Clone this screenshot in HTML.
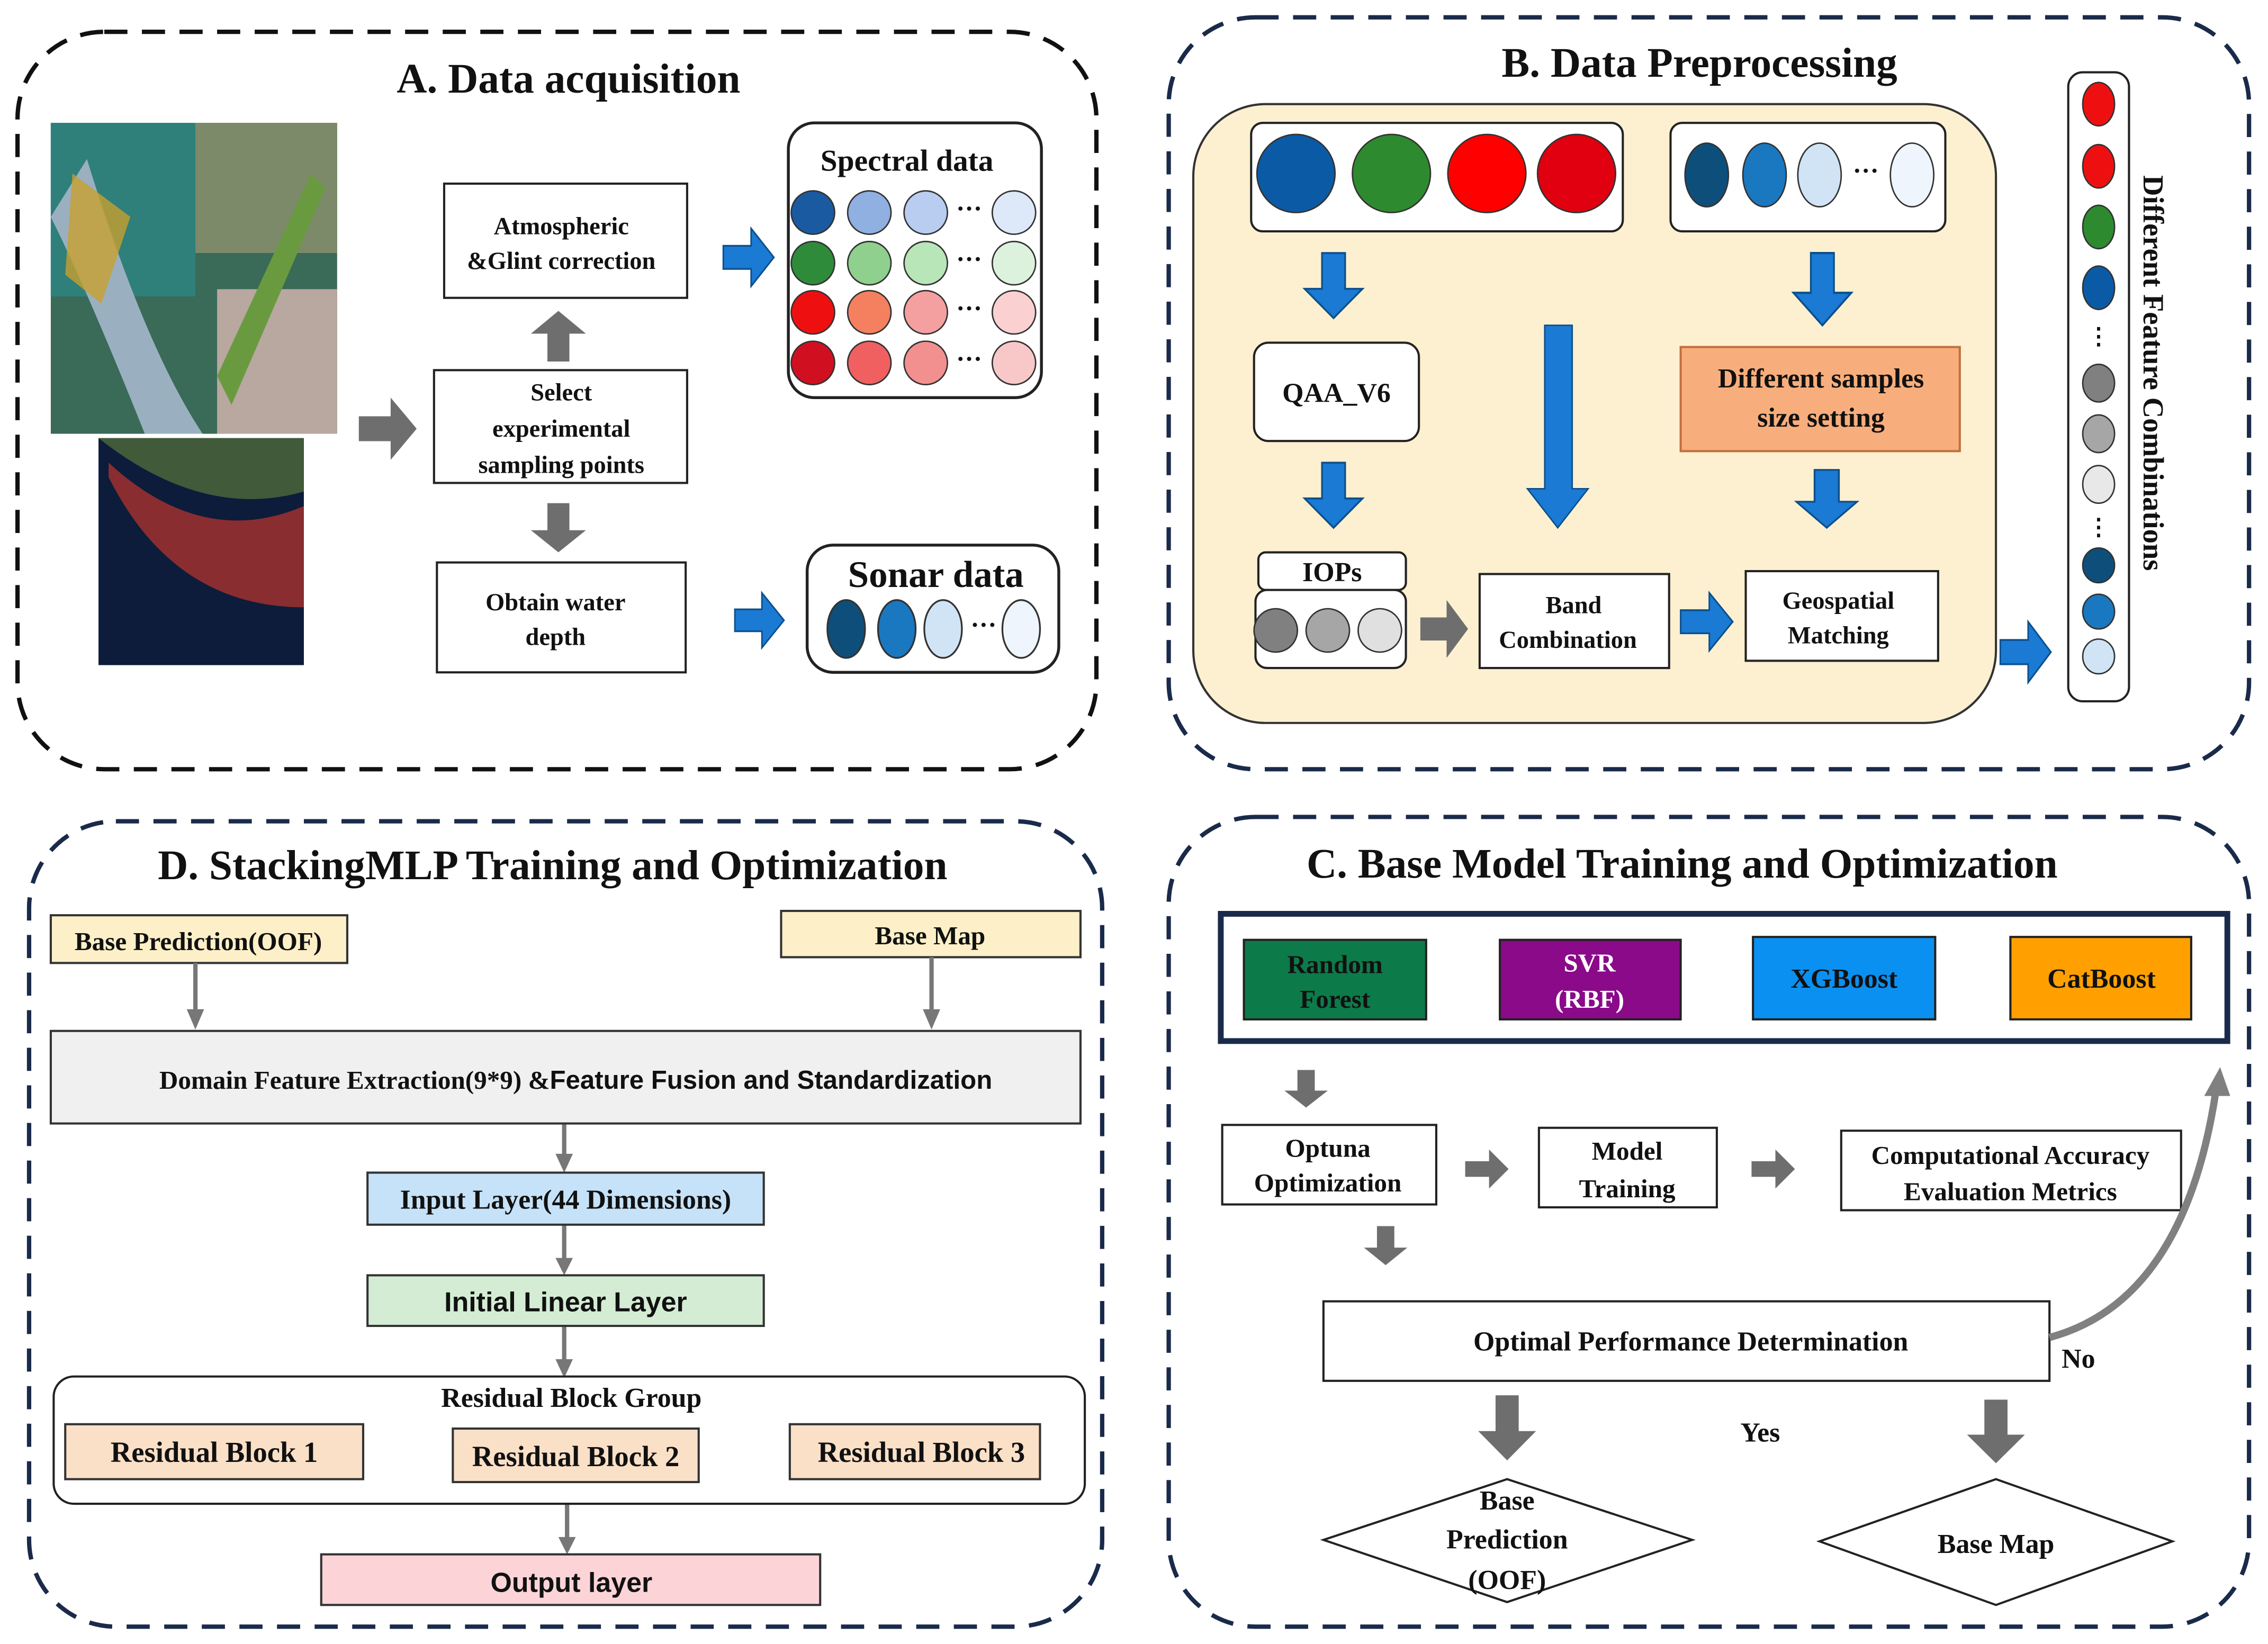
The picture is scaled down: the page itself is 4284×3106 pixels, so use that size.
<!DOCTYPE html>
<html><head><meta charset="utf-8"><style>
html,body{margin:0;padding:0;background:#fff;}
svg{display:block;}
text{font-family:"Liberation Serif",serif;font-weight:bold;fill:#111;}
.s{font-family:"Liberation Sans",sans-serif;}
</style></head><body>
<svg width="4284" height="3106" viewBox="0 0 1568 1137" xmlns="http://www.w3.org/2000/svg">
<defs>
<polygon id="ar" points="0,0.3 0.55,0.3 0.55,0 1,0.5 0.55,1 0.55,0.7 0,0.7"/>
</defs>
<rect width="1568" height="1137" fill="#fff"/>
<!-- Panel frames -->
<rect x="12" y="22" width="746" height="510" rx="60" fill="none" stroke="#111" stroke-width="3" stroke-dasharray="16,10"/>
<rect x="808" y="12" width="747" height="520" rx="60" fill="none" stroke="#1a2a4a" stroke-width="3" stroke-dasharray="16,10"/>
<rect x="20" y="568" width="742" height="557" rx="60" fill="none" stroke="#1a2a4a" stroke-width="3" stroke-dasharray="16,10"/>
<rect x="808" y="565" width="747" height="560" rx="60" fill="none" stroke="#1a2a4a" stroke-width="3" stroke-dasharray="16,10"/>

<!-- Panel A -->
<text x="393" y="64" font-size="29" text-anchor="middle">A. Data acquisition</text>
<rect x="35" y="85" width="198" height="215" fill="#3a6a58"/>
<rect x="35" y="85" width="100" height="120" fill="#2f7f7a"/>
<rect x="135" y="85" width="98" height="90" fill="#7c8a6a"/>
<rect x="150" y="200" width="83" height="100" fill="#b8a8a0"/>
<path d="M60,110 Q100,240 140,300 L100,300 Q60,200 35,150Z" fill="#9ab0c0"/>
<path d="M50,120 L90,150 L70,210 L45,190Z" fill="#c8a030" opacity="0.8"/>
<path d="M150,260 L215,120 L225,130 L160,280Z" fill="#6a9a40"/>
<rect x="68" y="303" width="142" height="157" fill="#0c1c3a"/>
<path d="M75,320 Q140,380 210,350 L210,420 Q120,420 75,330Z" fill="#a03030" opacity="0.85"/>
<path d="M68,303 L210,303 L210,340 Q140,360 68,303Z" fill="#405a3a"/>
<use href="#ar" transform="translate(248,275) scale(40,43)" fill="#6e6e6e"/>
<rect x="307" y="127" width="168" height="79" fill="#fff" stroke="#222" stroke-width="1.5"/>
<text x="388" y="162" font-size="17" text-anchor="middle">Atmospheric</text>
<text x="388" y="186" font-size="17" text-anchor="middle">&amp;Glint correction</text>
<rect x="300" y="256" width="175" height="78" fill="#fff" stroke="#222" stroke-width="1.5"/>
<text x="388" y="277" font-size="17" text-anchor="middle">Select</text>
<text x="388" y="302" font-size="17" text-anchor="middle">experimental</text>
<text x="388" y="327" font-size="17" text-anchor="middle">sampling points</text>
<rect x="302" y="389" width="172" height="76" fill="#fff" stroke="#222" stroke-width="1.5"/>
<text x="384" y="422" font-size="17" text-anchor="middle">Obtain water</text>
<text x="384" y="446" font-size="17" text-anchor="middle">depth</text>
<use href="#ar" transform="translate(367,250) rotate(-90) scale(35,38)" fill="#6e6e6e"/>
<use href="#ar" transform="translate(405,348) rotate(90) scale(34,38)" fill="#6e6e6e"/>
<use href="#ar" transform="translate(500,158) scale(35,40)" fill="#1a7ad4" stroke="#0d4f8a" stroke-width="0.03"/>
<use href="#ar" transform="translate(508,410) scale(34,38)" fill="#1a7ad4" stroke="#0d4f8a" stroke-width="0.03"/>
<rect x="545" y="85" width="175" height="190" rx="18" fill="#fff" stroke="#222" stroke-width="2"/>
<text x="627" y="118" font-size="21" text-anchor="middle">Spectral data</text>
<g stroke="#333" stroke-width="1">
<circle cx="562" cy="147" r="15" fill="#1a5aa0"/><circle cx="601" cy="147" r="15" fill="#8fb0e0"/><circle cx="640" cy="147" r="15" fill="#b8cdf0"/><circle cx="701" cy="147" r="15" fill="#dde8f8"/>
<circle cx="562" cy="182" r="15" fill="#2e8b3a"/><circle cx="601" cy="182" r="15" fill="#8fd08f"/><circle cx="640" cy="182" r="15" fill="#b8e6b8"/><circle cx="701" cy="182" r="15" fill="#dcf2dc"/>
<circle cx="562" cy="216" r="15" fill="#ee1010"/><circle cx="601" cy="216" r="15" fill="#f58060"/><circle cx="640" cy="216" r="15" fill="#f5a0a0"/><circle cx="701" cy="216" r="15" fill="#fad0d0"/>
<circle cx="562" cy="251" r="15" fill="#d01020"/><circle cx="601" cy="251" r="15" fill="#f06060"/><circle cx="640" cy="251" r="15" fill="#f29090"/><circle cx="701" cy="251" r="15" fill="#f8c8c8"/>
</g>
<text x="670" y="150" font-size="18" text-anchor="middle">···</text>
<text x="670" y="185" font-size="18" text-anchor="middle">···</text>
<text x="670" y="219" font-size="18" text-anchor="middle">···</text>
<text x="670" y="254" font-size="18" text-anchor="middle">···</text>
<rect x="558" y="377" width="174" height="88" rx="18" fill="#fff" stroke="#222" stroke-width="2"/>
<text x="647" y="406" font-size="26" text-anchor="middle">Sonar data</text>
<g stroke="#333" stroke-width="1.2">
<ellipse cx="585" cy="435" rx="13" ry="20" fill="#0d4f7a"/><ellipse cx="620" cy="435" rx="13" ry="20" fill="#1a78c0"/><ellipse cx="652" cy="435" rx="13" ry="20" fill="#d0e4f5"/><ellipse cx="706" cy="435" rx="13" ry="20" fill="#eef5fc"/>
</g>
<text x="680" y="438" font-size="18" text-anchor="middle">···</text>

<!-- Panel B -->
<text x="1175" y="53" font-size="29" text-anchor="middle">B. Data Preprocessing</text>
<rect x="825" y="72" width="555" height="428" rx="50" fill="#fdf0d0" stroke="#333" stroke-width="1.5"/>
<rect x="865" y="85" width="257" height="75" rx="8" fill="#fff" stroke="#222" stroke-width="1.5"/>
<g stroke="#333" stroke-width="1">
<circle cx="896" cy="120" r="27" fill="#0b5aa5"/><circle cx="962" cy="120" r="27" fill="#2e8a2e"/><circle cx="1028" cy="120" r="27" fill="#ff0000"/><circle cx="1090" cy="120" r="27" fill="#e00010"/>
</g>
<rect x="1155" y="85" width="190" height="75" rx="8" fill="#fff" stroke="#222" stroke-width="1.5"/>
<g stroke="#333" stroke-width="1">
<ellipse cx="1180" cy="121" rx="15" ry="22" fill="#0d4f7a"/><ellipse cx="1220" cy="121" rx="15" ry="22" fill="#1a78c0"/><ellipse cx="1258" cy="121" rx="15" ry="22" fill="#d0e4f5"/><ellipse cx="1322" cy="121" rx="15" ry="22" fill="#eef5fc"/>
</g>
<text x="1290" y="124" font-size="18" text-anchor="middle">···</text>
<g fill="#1a7ad4" stroke="#0d4f8a" stroke-width="0.03">
<use href="#ar" transform="translate(942,175) rotate(90) scale(45,40)"/>
<use href="#ar" transform="translate(942,320) rotate(90) scale(45,40)"/>
<use href="#ar" transform="translate(1280,175) rotate(90) scale(50,40)"/>
<use href="#ar" transform="translate(1284,325) rotate(90) scale(40,42)"/>
<use href="#ar" transform="translate(1162,410) scale(36,40)"/>
<use href="#ar" transform="translate(1383,430) scale(35,42)"/>
</g>
<polygon points="1068,225 1087,225 1087,338 1098,338 1077,365 1056,338 1068,338" fill="#1a7ad4" stroke="#0d4f8a" stroke-width="1"/>
<rect x="867" y="237" width="114" height="68" rx="10" fill="#fff" stroke="#222" stroke-width="1.5"/>
<text x="924" y="278" font-size="19" text-anchor="middle">QAA_V6</text>
<rect x="1162" y="240" width="193" height="72" fill="#f8ae7c" stroke="#c07040" stroke-width="1.5"/>
<text x="1259" y="268" font-size="19" text-anchor="middle">Different samples</text>
<text x="1259" y="295" font-size="19" text-anchor="middle">size setting</text>
<rect x="870" y="382" width="102" height="26" rx="5" fill="#fff" stroke="#222" stroke-width="1.5"/>
<text x="921" y="402" font-size="19" text-anchor="middle">IOPs</text>
<rect x="868" y="408" width="104" height="54" rx="8" fill="#fff" stroke="#222" stroke-width="1.5"/>
<g stroke="#333" stroke-width="1"><circle cx="882" cy="436" r="15" fill="#808080"/><circle cx="918" cy="436" r="15" fill="#a6a6a6"/><circle cx="954" cy="436" r="15" fill="#e0e0e0"/></g>
<use href="#ar" transform="translate(982,415) scale(33,40)" fill="#6e6e6e"/>
<rect x="1023" y="397" width="131" height="65" fill="#fff" stroke="#222" stroke-width="1.5"/>
<text x="1088" y="424" font-size="17" text-anchor="middle">Band</text>
<text x="1084" y="448" font-size="17" text-anchor="middle">Combination</text>
<rect x="1207" y="395" width="133" height="62" fill="#fff" stroke="#222" stroke-width="1.5"/>
<text x="1271" y="421" font-size="17" text-anchor="middle">Geospatial</text>
<text x="1271" y="445" font-size="17" text-anchor="middle">Matching</text>
<rect x="1430" y="50" width="42" height="435" rx="10" fill="#fff" stroke="#222" stroke-width="1.5"/>
<g stroke="#333" stroke-width="1">
<ellipse cx="1451" cy="72" rx="11" ry="15" fill="#ee1010"/><ellipse cx="1451" cy="115" rx="11" ry="15" fill="#ee1010"/><ellipse cx="1451" cy="157" rx="11" ry="15" fill="#2e8a2e"/><ellipse cx="1451" cy="199" rx="11" ry="15" fill="#0b5aa5"/>
<ellipse cx="1451" cy="265" rx="11" ry="13" fill="#808080"/><ellipse cx="1451" cy="300" rx="11" ry="13" fill="#a6a6a6"/><ellipse cx="1451" cy="335" rx="11" ry="13" fill="#e8e8e8"/>
<ellipse cx="1451" cy="391" rx="11" ry="12" fill="#0d4f7a"/><ellipse cx="1451" cy="423" rx="11" ry="12" fill="#1a78c0"/><ellipse cx="1451" cy="454" rx="11" ry="12" fill="#d0e4f5"/>
</g>
<text x="1451" y="238" font-size="16" text-anchor="middle">⋮</text>
<text x="1451" y="370" font-size="16" text-anchor="middle">⋮</text>
<text transform="translate(1482,258) rotate(90)" font-size="20" text-anchor="middle">Different Feature Combinations</text>

<!-- Panel D -->
<text x="382" y="608" font-size="29" text-anchor="middle">D. StackingMLP Training and Optimization</text>
<rect x="35" y="633" width="205" height="33" fill="#fdf0c8" stroke="#333" stroke-width="1.5"/>
<text x="137" y="657" font-size="18" text-anchor="middle">Base Prediction(OOF)</text>
<rect x="540" y="630" width="207" height="32" fill="#fdf0c8" stroke="#333" stroke-width="1.5"/>
<text x="643" y="653" font-size="18" text-anchor="middle">Base Map</text>
<g stroke="#777" stroke-width="3" fill="#777">
<line x1="135" y1="666" x2="135" y2="700"/><polygon points="129,698 141,698 135,712" stroke="none"/>
<line x1="644" y1="662" x2="644" y2="700"/><polygon points="638,698 650,698 644,712" stroke="none"/>
<line x1="390" y1="777" x2="390" y2="800"/><polygon points="384,798 396,798 390,811" stroke="none"/>
<line x1="390" y1="847" x2="390" y2="872"/><polygon points="384,870 396,870 390,882" stroke="none"/>
<line x1="390" y1="917" x2="390" y2="942"/><polygon points="384,940 396,940 390,953" stroke="none"/>
<line x1="392" y1="1040" x2="392" y2="1065"/><polygon points="386,1063 398,1063 392,1075" stroke="none"/>
</g>
<rect x="35" y="713" width="712" height="64" fill="#f0f0f0" stroke="#333" stroke-width="1.5"/>
<text x="398" y="753" font-size="18" text-anchor="middle">Domain Feature Extraction(9*9) &amp;<tspan class="s">Feature Fusion and Standardization</tspan></text>
<rect x="254" y="811" width="274" height="36" fill="#c6e2f8" stroke="#333" stroke-width="1.5"/>
<text x="391" y="836" font-size="19" text-anchor="middle">Input Layer(44 Dimensions)</text>
<rect x="254" y="882" width="274" height="35" fill="#d4ecd4" stroke="#333" stroke-width="1.5"/>
<text x="391" y="907" font-size="19" text-anchor="middle" class="s">Initial Linear Layer</text>
<rect x="37" y="952" width="713" height="88" rx="14" fill="#fff" stroke="#222" stroke-width="1.5"/>
<text x="395" y="973" font-size="19" text-anchor="middle">Residual Block Group</text>
<rect x="45" y="985" width="206" height="38" fill="#fbe0c8" stroke="#333" stroke-width="1.5"/>
<text x="148" y="1011" font-size="20" text-anchor="middle">Residual Block 1</text>
<rect x="313" y="988" width="170" height="37" fill="#fbe0c8" stroke="#333" stroke-width="1.5"/>
<text x="398" y="1014" font-size="20" text-anchor="middle">Residual Block 2</text>
<rect x="546" y="985" width="173" height="38" fill="#fbe0c8" stroke="#333" stroke-width="1.5"/>
<text x="637" y="1011" font-size="20" text-anchor="middle">Residual Block 3</text>
<rect x="222" y="1075" width="345" height="35" fill="#fcd4d8" stroke="#333" stroke-width="1.5"/>
<text x="395" y="1101" font-size="19" text-anchor="middle" class="s">Output layer</text>

<!-- Panel C -->
<text x="1163" y="607" font-size="29" text-anchor="middle">C. Base Model Training and Optimization</text>
<rect x="844" y="632" width="696" height="88" fill="#fff" stroke="#1a2a4a" stroke-width="4"/>
<rect x="860" y="650" width="126" height="55" fill="#0d7a4a" stroke="#222" stroke-width="1.5"/>
<text x="923" y="673" font-size="18" text-anchor="middle">Random</text>
<text x="923" y="697" font-size="18" text-anchor="middle">Forest</text>
<rect x="1037" y="650" width="125" height="55" fill="#8a0a8a" stroke="#222" stroke-width="1.5"/>
<text x="1099" y="672" font-size="18" text-anchor="middle" style="fill:#fff">SVR</text>
<text x="1099" y="697" font-size="18" text-anchor="middle" style="fill:#fff">(RBF)</text>
<rect x="1212" y="648" width="126" height="57" fill="#0a90f0" stroke="#222" stroke-width="1.5"/>
<text x="1275" y="683" font-size="19" text-anchor="middle">XGBoost</text>
<rect x="1390" y="648" width="125" height="57" fill="#ffa000" stroke="#222" stroke-width="1.5"/>
<text x="1453" y="683" font-size="19" text-anchor="middle">CatBoost</text>
<g fill="#6e6e6e">
<use href="#ar" transform="translate(918,740) rotate(90) scale(26,30)"/>
<use href="#ar" transform="translate(973,848) rotate(90) scale(27,30)"/>
<use href="#ar" transform="translate(1013,795) scale(30,27)"/>
<use href="#ar" transform="translate(1211,795) scale(30,27)"/>
<use href="#ar" transform="translate(1062,965) rotate(90) scale(45,40)"/>
<use href="#ar" transform="translate(1400,968) rotate(90) scale(44,40)"/>
</g>
<rect x="845" y="778" width="148" height="55" fill="#fff" stroke="#222" stroke-width="1.5"/>
<text x="918" y="800" font-size="18" text-anchor="middle">Optuna</text>
<text x="918" y="824" font-size="18" text-anchor="middle">Optimization</text>
<rect x="1064" y="780" width="123" height="55" fill="#fff" stroke="#222" stroke-width="1.5"/>
<text x="1125" y="802" font-size="18" text-anchor="middle">Model</text>
<text x="1125" y="828" font-size="18" text-anchor="middle">Training</text>
<rect x="1273" y="782" width="235" height="55" fill="#fff" stroke="#222" stroke-width="1.5"/>
<text x="1390" y="805" font-size="18" text-anchor="middle">Computational Accuracy</text>
<text x="1390" y="830" font-size="18" text-anchor="middle">Evaluation Metrics</text>
<rect x="915" y="900" width="502" height="55" fill="#fff" stroke="#222" stroke-width="1.5"/>
<text x="1169" y="934" font-size="19" text-anchor="middle">Optimal Performance Determination</text>
<path d="M1417,925 Q1510,900 1532,755" fill="none" stroke="#808080" stroke-width="5"/>
<polygon points="1524,758 1542,758 1535,738" fill="#808080"/>
<text x="1437" y="946" font-size="19" text-anchor="middle">No</text>
<text x="1217" y="997" font-size="19" text-anchor="middle">Yes</text>
<polygon points="915,1065 1042,1023 1170,1065 1042,1108" fill="#fff" stroke="#222" stroke-width="1.5"/>
<text x="1042" y="1044" font-size="19" text-anchor="middle">Base</text>
<text x="1042" y="1071" font-size="19" text-anchor="middle">Prediction</text>
<text x="1042" y="1099" font-size="19" text-anchor="middle">(OOF)</text>
<polygon points="1258,1066 1380,1023 1502,1066 1380,1110" fill="#fff" stroke="#222" stroke-width="1.5"/>
<text x="1380" y="1074" font-size="19" text-anchor="middle">Base Map</text>
</svg>
</body></html>
